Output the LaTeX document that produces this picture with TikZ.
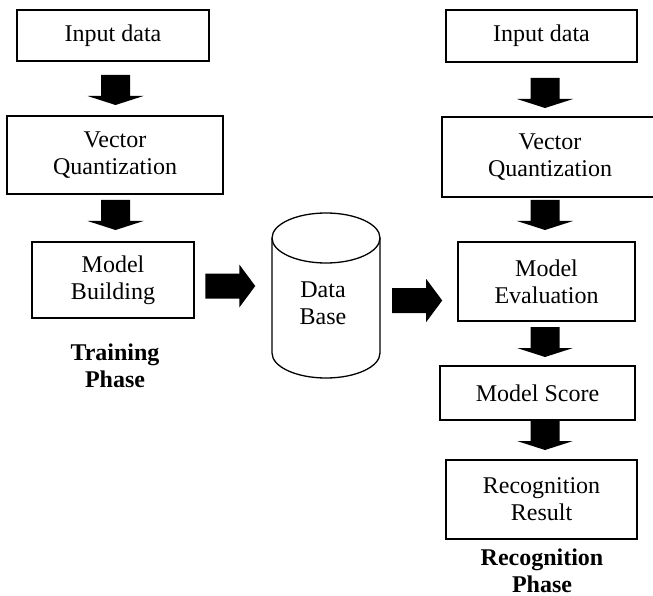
\documentclass[tikz,border=0pt]{standalone}
\usepackage{fontspec}
\setmainfont{Liberation Serif}
\usetikzlibrary{calc}

\tikzset{
  stage/.style={draw=black, line width=1.5pt, fill=white, align=center,
    inner sep=0pt, font=\fontsize{24}{27}\selectfont},
  phase/.style={align=center, inner sep=0pt,
    font=\fontsize{24}{27}\selectfont\bfseries},
  blockarrow/.style={fill=black, draw=none}
}

% fat downward arrow between two stacked boxes (#3: column, #4: vertical shift)
\newcommand\downblock[4]{%
  \path ($(#1.south)!0.5!(#2.north)$) coordinate (mid);
  \path (#3 |- mid) ++(0,#4) coordinate (c);
  \fill[blockarrow] ($(c)+(-14.5,-15)$) -- ($(c)+(14.5,-15)$) -- ($(c)+(14.5,6)$)
    -- ($(c)+(28,6)$) -- ($(c)+(0,15)$) -- ($(c)+(-28,6)$) -- ($(c)+(-14.5,6)$) -- cycle;
}
% fat rightward arrow between two boxes side by side (#3: x shift, #4: y shift)
\newcommand\rightblock[4]{%
  \path ($(#1.east)!0.5!(#2.west)$) coordinate (mid);
  \path (mid |- #1.center) ++(#3,#4) coordinate (c);
  \fill[blockarrow] ($(c)+(-25,-12.5)$) -- ($(c)+(9,-12.5)$) -- ($(c)+(9,-21.5)$)
    -- ($(c)+(25,0)$) -- ($(c)+(9,21.5)$) -- ($(c)+(9,12.5)$) -- ($(c)+(-25,12.5)$) -- cycle;
}

\begin{document}
\begin{tikzpicture}[x=1pt, y=-1pt]
\useasboundingbox (0,0) rectangle (653,596);

% columns of the two phases
\coordinate (colL) at (115.5,0);
\coordinate (colR) at (545,0);

% training phase
\node[stage, minimum width=192pt, minimum height=51pt] (in1) at (113,35.5) {Input data};
\node[stage, minimum width=216pt, minimum height=78pt] (vq1) at (115,155) {Vector\\Quantization};
\node[stage, minimum width=162pt, minimum height=76pt] (mb) at (113,280) {Model\\Building};
\node[phase] (tp) at (115,366) {Training\\Phase};

% data base cylinder
\node[minimum width=108pt, minimum height=165pt, inner sep=0pt] (db) at (326,295.5) {};
\draw[line width=1.3pt, fill=white]
  (272,238) -- (272,353) arc[start angle=180, end angle=360, x radius=54pt, y radius=25pt]
  -- (380,238);
\draw[line width=1.3pt] (326,238) ellipse[x radius=54pt, y radius=25pt];
\node[align=center, inner sep=0pt, font=\fontsize{24}{27}\selectfont] (dbt) at (323,303.5) {Data\\Base};

% recognition phase
\node[stage, minimum width=191pt, minimum height=52pt] (in2) at (541.5,36) {Input data};
\node[stage, minimum width=216pt, minimum height=80pt] (vq2) at (550,157) {Vector\\Quantization};
\node[stage, minimum width=177pt, minimum height=79pt] (me) at (546.5,281.5) {Model\\Evaluation};
\node[stage, minimum width=195pt, minimum height=54pt] (ms) at (537.5,393) {Model Score};
\node[stage, minimum width=191pt, minimum height=79pt] (rr) at (541.5,499.5) {Recognition\\Result};
\node[phase] (rp) at (542,570.5) {Recognition\\Phase};

% flow arrows
\downblock{in1}{vq1}{colL}{1.5}
\downblock{vq1}{mb}{colL}{-3}
\rightblock{mb}{db}{-3}{6}
\rightblock{db}{me}{-1.5}{5}
\downblock{in2}{vq2}{colR}{3.5}
\downblock{vq2}{me}{colR}{-4.5}
\downblock{me}{ms}{colR}{-1.5}
\downblock{ms}{rr}{colR}{-5}
\end{tikzpicture}
\end{document}
